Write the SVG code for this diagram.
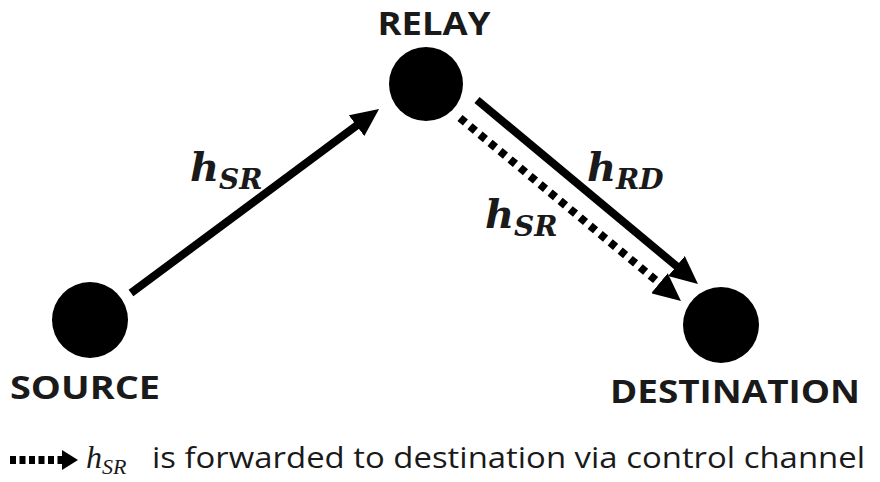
<svg xmlns="http://www.w3.org/2000/svg" width="880" height="482" viewBox="0 0 880 482">
<style>
.node{fill:#000}
.lbl{font-family:"Open Sans","Liberation Sans",sans-serif;font-weight:bold;font-size:33px;fill:#1a1a1a}
.math{font-family:"DejaVu Serif","Liberation Serif",serif;font-style:italic;font-weight:bold;fill:#1a1a1a}
.solid{stroke:#000;stroke-width:8;fill:none}
.dot{stroke:#000;stroke-width:8;fill:none;stroke-dasharray:7 6}
.leg{font-family:"Open Sans","Liberation Sans",sans-serif;font-size:29px;fill:#1a1a1a}
</style>
<defs>
<marker id="ah" markerUnits="userSpaceOnUse" markerWidth="30" markerHeight="26" refX="14" refY="13" orient="auto">
<path d="M0,0 L28,13 L0,26 Z" fill="#000"/>
</marker>
</defs>
<g id="relay"><circle class="node" cx="426" cy="84" r="37"/><text class="lbl" x="434" y="35" text-anchor="middle" textLength="113" lengthAdjust="spacingAndGlyphs">RELAY</text></g>
<g id="source"><circle class="node" cx="90" cy="320" r="38"/><text class="lbl" x="85" y="399" text-anchor="middle" textLength="150" lengthAdjust="spacingAndGlyphs">SOURCE</text></g>
<g id="destination"><circle class="node" cx="721" cy="325" r="38"/><text class="lbl" x="735" y="403" text-anchor="middle" textLength="250" lengthAdjust="spacingAndGlyphs">DESTINATION</text></g>
<g id="connectors">
<line class="solid" x1="131" y1="293" x2="367.8" y2="117.3" marker-end="url(#ah)"/>
<line class="solid" x1="477" y1="100" x2="687.2" y2="275" marker-end="url(#ah)"/>
<line class="dot" x1="460" y1="118" x2="670.2" y2="292.1" marker-end="url(#ah)"/>
</g>
<g id="labels">
<text class="math" x="190" y="181" font-size="40">h<tspan font-size="28" dy="8">SR</tspan></text>
<text class="math" x="587" y="181" font-size="40">h<tspan font-size="28" dy="8">RD</tspan></text>
<text class="math" x="485" y="228" font-size="40">h<tspan font-size="28" dy="8">SR</tspan></text>
</g>
<g id="legend">
<line x1="10" y1="460" x2="62" y2="460" stroke="#000" stroke-width="8" stroke-dasharray="6 3.5"/>
<path d="M62,450 L78,460 L62,470 Z" fill="#000"/>
<text x="86" y="468" font-size="32" style="font-family:'Liberation Serif',serif;font-style:italic;fill:#1a1a1a">h<tspan font-size="22" dy="6">SR</tspan></text>
<text class="leg" x="152" y="468" textLength="713" lengthAdjust="spacingAndGlyphs">is forwarded to destination via control channel</text>
</g>
</svg>
